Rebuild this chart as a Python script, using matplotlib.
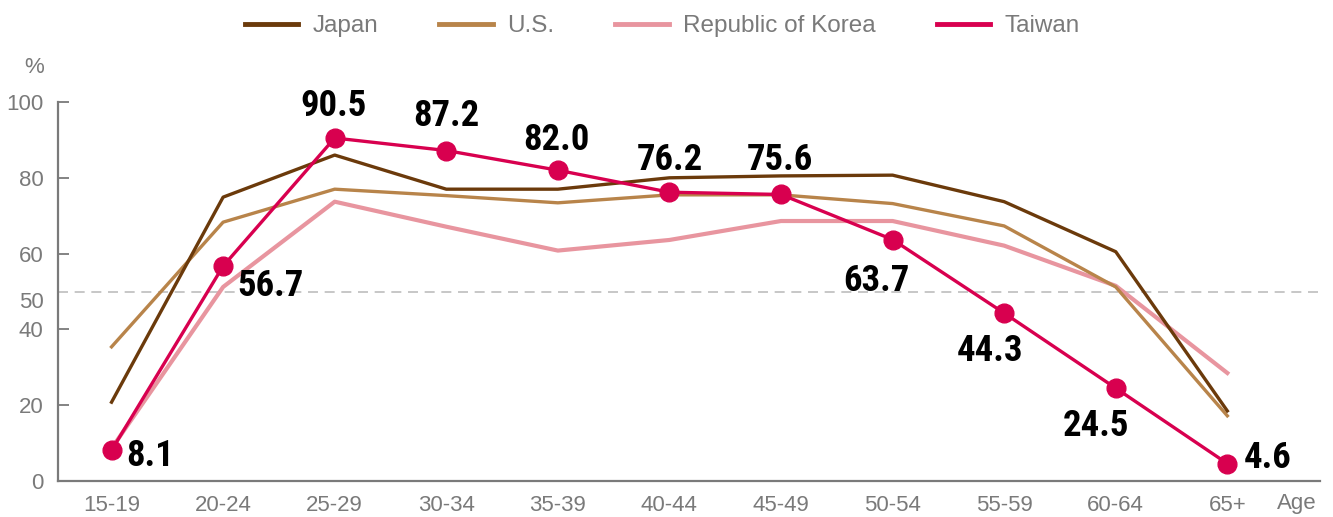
import matplotlib.pyplot as plt

plt.rcParams["font.family"] = ["Liberation Sans", "DejaVu Sans"]

age_groups = ["15-19", "20-24", "25-29", "30-34", "35-39", "40-44",
              "45-49", "50-54", "55-59", "60-64", "65+"]

japan = [20.8, 74.9, 86.0, 77.0, 77.0, 80.0, 80.5, 80.7, 73.7, 60.5, 18.5]
us = [35.4, 68.3, 77.0, 75.3, 73.4, 75.5, 75.5, 73.2, 67.3, 51.2, 17.2]
korea = [8.6, 51.2, 73.7, 67.1, 60.8, 63.6, 68.6, 68.6, 62.1, 51.5, 28.5]
taiwan = [8.1, 56.7, 90.5, 87.2, 82.0, 76.2, 75.6, 63.7, 44.3, 24.5, 4.6]

# label offsets (points) for the Taiwan values
label_offsets = [(28, -4), (34, -14), (-1, 23), (0, 25), (-1, 22), (0, 23),
                 (-1, 25), (-12, -30), (-10, -27), (-14, -27), (29, 4)]

GRAY = "#7a7a7a"
LABEL_FONTS = ["Roboto Condensed", "Liberation Sans Narrow", "Noto Sans", "DejaVu Sans"]

fig = plt.figure(figsize=(13.33, 5.17), dpi=100)
ax = fig.add_axes([0.0435, 0.0696, 0.9467, 0.7331])

x = list(range(len(age_groups)))

ax.axhline(50, color="#bdbdbd", lw=1.2, dashes=(6, 4), zorder=1)

ax.plot(x, korea, color="#e8959f", lw=3.0, label="Republic of Korea", zorder=2)
ax.plot(x, us, color="#b8844a", lw=2.4, label="U.S.", zorder=3)
ax.plot(x, japan, color="#6b3a0b", lw=2.4, label="Japan", zorder=4)
ax.plot(x, taiwan, color="#d8004f", lw=2.4, marker="o", markersize=13.5,
        label="Taiwan", zorder=5, clip_on=False)

for xi, v, off in zip(x, taiwan, label_offsets):
    ax.annotate(f"{v:.1f}", xy=(xi, v), xytext=off, textcoords="offset points",
                ha="center", va="center", fontsize=26.5, fontweight="bold",
                fontstretch="condensed", family=LABEL_FONTS, color="black",
                zorder=6, annotation_clip=False)

ax.set_xlim(-0.48, 10.83)
ax.set_ylim(0, 100)
ax.set_xticks(x)
ax.set_xticklabels(age_groups)
ax.set_yticks([0, 20, 40, 60, 80, 100])

ax.tick_params(axis="y", direction="in", length=8, width=1.3, color=GRAY,
               labelsize=16, labelcolor=GRAY, pad=10.5)
ax.tick_params(axis="x", length=0, labelsize=16, labelcolor=GRAY, pad=10)

for side in ["top", "right"]:
    ax.spines[side].set_visible(False)
for side in ["left", "bottom"]:
    ax.spines[side].set_color(GRAY)
    ax.spines[side].set_linewidth(1.6)

ax.annotate("50", xy=(0, 50), xycoords=("axes fraction", "data"),
            xytext=(-10.5, -8), textcoords="offset points", ha="right",
            va="center", fontsize=16, color=GRAY)
ax.annotate("%", xy=(0, 100), xycoords=("axes fraction", "data"),
            xytext=(-17, 25), textcoords="offset points", ha="center",
            va="center", fontsize=16, color=GRAY)
ax.annotate("Age", xy=(1, 0), xycoords="axes fraction",
            xytext=(-17, -16), textcoords="offset points", ha="center",
            va="center", fontsize=16, color=GRAY)

handles, labels = ax.get_legend_handles_labels()
order = [2, 1, 0, 3]
leg = fig.legend([handles[i] for i in order], [labels[i] for i in order],
                 loc="upper center", bbox_to_anchor=(0.497, 1.013), ncol=4,
                 frameon=False, fontsize=17.5, handlelength=2.2,
                 handletextpad=0.6, columnspacing=2.5)
for line in leg.get_lines():
    line.set_linewidth(3.5)
    line.set_marker("")
for t in leg.get_texts():
    t.set_color(GRAY)

fig.savefig("out.png", dpi=100)
